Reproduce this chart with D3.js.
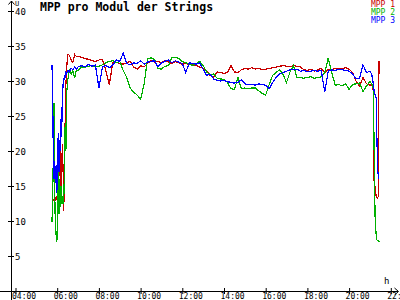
<!DOCTYPE html>
<html>
<head>
<meta charset="utf-8">
<script src="https://cdn.jsdelivr.net/npm/d3@7"></script>
<style>
  html, body { margin: 0; padding: 0; background: #fff; }
  svg { display: block; }
  text { font-family: "DejaVu Sans Mono", monospace; }
</style>
</head>
<body>
<div id="chart"></div>
<script>
var W = 400, H = 300;

// time of each sample (HH:MM)
var times = ["05:45","05:47","05:49","05:51","05:53","05:55","05:57","05:59","06:01","06:03",
  "06:05","06:07","06:09","06:11","06:13","06:15","06:17","06:19","06:21","06:23","06:25","06:27",
  "06:30","06:35","06:40","06:45","06:50","06:55",
  "07:00","07:10","07:20","07:30","07:40","07:50","08:00","08:10","08:20","08:30","08:40","08:50",
  "09:00","09:10","09:20","09:30","09:40","09:50","10:00","10:10","10:20","10:30","10:40","10:50",
  "11:00","11:10","11:20","11:30","11:40","11:50","12:00","12:10","12:20","12:30","12:40","12:50",
  "13:00","13:10","13:20","13:30","13:40","13:50","14:00","14:10","14:20","14:30","14:40","14:50",
  "15:00","15:10","15:20","15:30","15:40","15:50","16:00","16:10","16:20","16:30","16:40","16:50",
  "17:00","17:10","17:20","17:30","17:40","17:50","18:00","18:10","18:20","18:30","18:40","18:50",
  "19:00","19:10","19:20","19:30","19:40","19:50","20:00","20:10","20:20","20:30","20:40","20:50",
  "21:00","21:05","21:10","21:12","21:15","21:18","21:20","21:22","21:24","21:26","21:28"];

var mpp1 = [13.0,13.0,13.0,13.0,13.2,13.0,13.5,13.0,13.5,22.0,
  19.0,16.5,20.5,14.5,18.0,21.0,17.0,11.5,19.0,24.5,29.5,31.5,
  33.8,33.7,33.0,32.6,33.8,33.5,
  33.5,33.4,33.2,33.1,32.9,32.8, 33.0,33.1,31.5,29.5,32.6,32.7,
  32.5,32.4,32.6,32.8,32.0,31.7, 32.2,32.0,32.5,32.9,32.7,32.8,
  32.6,32.9,32.7,32.5,32.8,32.6, 32.4,32.5,32.3,32.4,32.2,32.0,
  31.8,31.5,30.8,30.5,31.3,31.2, 31.1,31.2,32.2,31.3,31.2,31.6,
  31.8,31.7,31.9,31.7,31.8,31.6, 31.7,31.8,31.9,32.0,32.1,32.2,
  32.1,32.0,32.2,32.1,32.0,31.6, 31.5,31.7,31.4,31.6,31.8,31.2,
  31.7,31.6,31.8,31.7,31.8,31.9, 31.7,31.2,30.0,29.3,30.5,29.6,
  29.4,29.5,28.5,15.6,14.8,13.5,13.3,13.3,13.5,32.8,31.8];

var mpp2 = [9.8,13.5,20.0,26.8,14.0,8.0,8.5,7.3,7.5,20.5,
  11.0,16.0,12.0,15.0,12.5,13.5,12.5,13.0,18.0,24.0,20.0,28.0,
  30.0,31.5,31.0,31.5,30.4,31.5,
  31.5,32.0,32.0,32.1,32.2,32.0, 32.1,32.3,32.6,32.8,32.9,32.6,
  32.8,31.5,30.5,29.0,28.4,28.0, 27.4,29.5,33.2,33.3,33.1,31.8,
  31.7,32.1,32.2,33.3,33.4,33.2, 32.8,32.6,32.4,32.2,32.5,32.8,
  32.2,31.3,30.9,31.0,30.4,30.3, 30.2,29.8,28.9,28.8,30.5,28.9,
  29.0,28.9,29.0,29.0,28.6,28.2, 28.0,29.5,30.8,31.2,31.6,30.9,
  29.8,31.3,32.2,30.5,30.5,30.4, 30.5,30.6,30.4,30.5,30.6,31.2,
  33.3,31.2,29.4,29.5,29.3,29.6, 28.8,29.5,29.6,29.7,28.5,29.3,
  29.9,29.6,28.8,20.0,10.0,8.0,7.3,7.2,7.2,7.1,7.0];

var mpp3 = [32.3,28.4,17.8,16.0,18.5,15.5,18.0,14.0,19.0,22.5,
  17.0,21.5,20.0,24.5,22.0,29.5,29.0,30.0,30.8,30.5,31.2,31.0,
  31.5,31.3,31.8,31.6,32.0,31.7,
  32.0,32.2,32.0,32.4,32.1,32.3, 29.0,32.0,32.2,31.9,32.3,33.0,
  32.8,34.0,32.5,32.3,32.6,32.5, 32.9,32.4,32.7,32.8,32.9,32.0,
  32.6,32.8,33.0,32.6,32.9,32.7, 32.5,31.2,32.6,32.5,32.4,32.6,
  31.7,30.8,31.0,30.3,30.1,30.0, 30.1,29.9,29.8,29.7,29.8,30.2,
  29.6,29.5,29.5,29.4,29.6,29.5, 29.4,28.9,29.8,30.5,31.0,31.2,
  31.4,31.6,31.6,31.7,31.4,31.5, 31.3,31.4,31.5,31.4,31.5,28.4,
  31.4,31.6,31.5,31.7,31.6,31.5, 31.4,31.0,30.3,30.4,32.3,31.2,
  31.4,31.0,29.5,28.5,28.0,27.5,22.0,17.5,16.5,16.0,null];

var seriesNames = ["MPP 1", "MPP 2", "MPP 3"];
var seriesColors = ["#c80000", "#00b000", "#0000ff"];
var xTicks = [4, 6, 8, 10, 12, 14, 16, 18, 20, 22];
var yTicks = [5, 10, 15, 20, 25, 30, 35, 40];

function hours(s) {
  var p = s.split(":");
  return +p[0] + (+p[1]) / 60;
}
function pad(n) { return (n < 10 ? "0" : "") + n; }

var x = d3.scaleLinear().domain([4, 22]).range([15.5, 390.8]);
var y = d3.scaleLinear().domain([0, 40]).range([291, 11]);

var svg = d3.select("#chart").append("svg")
  .attr("width", W)
  .attr("height", H);

svg.append("rect").attr("width", W).attr("height", H).attr("fill", "#fff");

// data lines
var line = d3.line()
  .defined(function(d) { return d[1] != null; })
  .x(function(d) { return x(d[0]); })
  .y(function(d) { return y(d[1]); });

[mpp1, mpp2, mpp3].forEach(function(vals, i) {
  var pts = times.map(function(t, j) { return [hours(t), vals[j]]; });
  svg.append("path")
    .datum(pts)
    .attr("d", line)
    .attr("fill", "none")
    .attr("stroke", seriesColors[i])
    .attr("stroke-width", 1.2)
    .attr("shape-rendering", "crispEdges");
});

// x axis
var xAxis = svg.append("g")
  .attr("transform", "translate(0,291)")
  .call(d3.axisBottom(x)
    .tickValues(xTicks)
    .tickSize(3)
    .tickSizeOuter(0)
    .tickFormat(function(d) { return d == 22 ? "22:" : pad(d) + ":00"; }));
xAxis.select(".domain").remove();
xAxis.selectAll(".tick line").attr("y1", -3).attr("stroke", "#000");
xAxis.selectAll(".tick text")
  .attr("text-anchor", "start")
  .attr("x", -4)
  .attr("y", 8)
  .attr("dy", 0)
  .attr("fill", "#000")
  .style("font-size", "8px")
  .style("font-family", "DejaVu Sans Mono");

// y axis
var yAxis = svg.append("g")
  .attr("transform", "translate(11,0)")
  .call(d3.axisRight(y)
    .tickValues(yTicks)
    .tickSize(3)
    .tickSizeOuter(0));
yAxis.select(".domain").remove();
yAxis.selectAll(".tick line").attr("x1", -3).attr("stroke", "#000");
yAxis.selectAll(".tick text")
  .attr("x", 4)
  .attr("dy", "0.35em")
  .attr("fill", "#000")
  .style("font-size", "9px")
  .style("font-family", "DejaVu Sans Mono");

// axis lines and arrows
svg.append("line").attr("x1", 0).attr("x2", 398).attr("y1", 291.5).attr("y2", 291.5)
  .attr("stroke", "#000");
svg.append("line").attr("x1", 11.5).attr("x2", 11.5).attr("y1", 1).attr("y2", 300)
  .attr("stroke", "#000");
svg.append("path").attr("d", "M8.5,4.5 L11.5,1 L14.5,4.5")
  .attr("fill", "none").attr("stroke", "#000");
svg.append("path").attr("d", "M394.5,288 L398.5,291.5 L394.5,295")
  .attr("fill", "none").attr("stroke", "#000");

svg.append("text").attr("x", 15).attr("y", 5.5)
  .style("font-size", "7px").text("U");
svg.append("text").attr("x", 384).attr("y", 284)
  .style("font-size", "9px").text("h");

// title
svg.append("text")
  .attr("x", 40).attr("y", 11)
  .style("font-size", "11.5px")
  .style("font-weight", "bold")
  .text("MPP pro Modul der Strings");

// legend
seriesNames.forEach(function(n, i) {
  svg.append("text")
    .attr("x", 395).attr("y", 7 + i * 8)
    .attr("text-anchor", "end")
    .attr("fill", seriesColors[i])
    .style("font-size", "8px")
    .text(n);
});
</script>
</body>
</html>
